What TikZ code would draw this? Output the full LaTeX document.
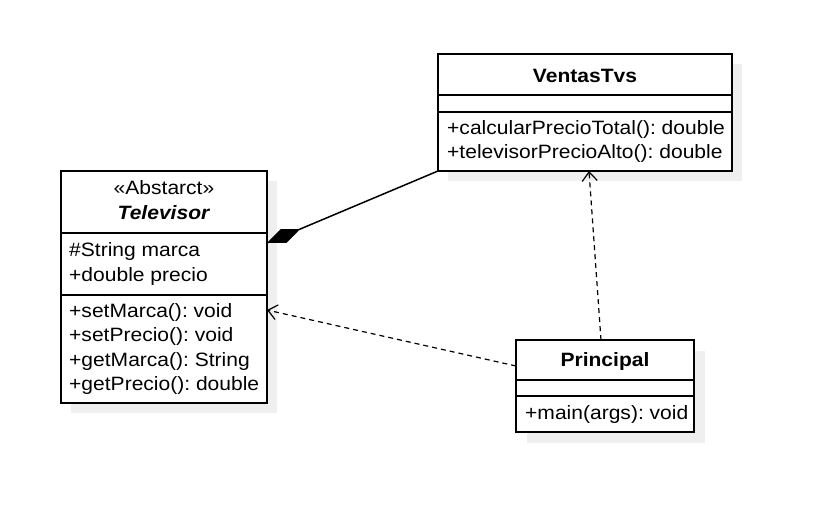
\documentclass[tikz,border=0pt]{standalone}
\usepackage{fontspec}
\setmainfont{Liberation Sans}[FakeStretch=1.09]
\usetikzlibrary{arrows.meta,calc,backgrounds}
\definecolor{shadowgray}{HTML}{EFEFEF}
\frenchspacing
\tikzset{
  x=1pt, y=-1pt,
  comp/.style={draw=black, line width=1.3pt, fill=white, anchor=north west,
    inner sep=0pt, outer sep=0pt},
  txt/.style={inner sep=0pt, align=left, anchor=west, font=\fontsize{19.3}{24.5}\selectfont},
  ctxt/.style={inner sep=0pt, align=center, anchor=center, font=\fontsize{19.3}{24.5}\selectfont},
  shadowbox/.style={fill=shadowgray, draw=none},
  dep/.style={line width=1.2pt, dash pattern=on 5pt off 4pt, -{Straight Barb[length=9pt,width=15pt,line width=1.2pt]}},
  compo/.style={line width=1.5pt, {Diamond[length=36pt,width=15pt]}-}
}
\begin{document}
\begin{tikzpicture}
\useasboundingbox (0,0) rectangle (816,523);

% Televisor
\node[comp, minimum width=206pt, minimum height=62pt] (tvh) at (61,171) {};
\node[comp, minimum width=206pt, minimum height=62pt] (tva) at (tvh.south west) {};
\node[comp, minimum width=206pt, minimum height=108pt] (tvm) at (tva.south west) {};
\node[ctxt] (tvht) at ($(tvh.center)+(0,-2)$) {«Abstarct»\\\textbf{\textit{Televisor}}};
\node[txt] (tvat) at ($(tva.west)+(8,0)$) {\#String marca\\+double precio};
\node[txt] (tvmt) at ($(tvm.west)+(8,0)$) {+setMarca(): void\\+setPrecio(): void\\+getMarca(): String\\+getPrecio(): double};

% VentasTvs
\node[comp, minimum width=294pt, minimum height=41pt] (vh) at (438,54) {};
\node[comp, minimum width=294pt, minimum height=17pt] (va) at (vh.south west) {};
\node[comp, minimum width=294pt, minimum height=59pt] (vm) at (va.south west) {};
\node[ctxt] (vht) at ($(vh.center)+(0,1)$) {\textbf{VentasTvs}};
\node[txt] (vmt) at ($(vm.west)+(9,0)$) {+calcularPrecioTotal(): double\\+televisorPrecioAlto(): double};

% Principal
\node[comp, minimum width=178pt, minimum height=40pt] (ph) at (516,340) {};
\node[comp, minimum width=178pt, minimum height=16pt] (pa) at (ph.south west) {};
\node[comp, minimum width=178pt, minimum height=36pt] (pm) at (pa.south west) {};
\node[ctxt] (pht) at ($(ph.center)+(0,2)$) {\textbf{Principal}};
\node[txt] (pmt) at ($(pm.west)+(9,0)$) {+main(args): void};

% shadows
\begin{scope}[on background layer]
  \fill[shadowbox] ($(tvh.north west)+(10,10)$) rectangle ($(tvm.south east)+(10,10)$);
  \fill[shadowbox] ($(vh.north west)+(10,10)$) rectangle ($(vm.south east)+(10,10)$);
  \fill[shadowbox] ($(ph.north west)+(11,11)$) rectangle ($(pm.south east)+(11,11)$);
\end{scope}

% connectors
\coordinate (compstart) at ($(tva.north east)+(0,10)$);
\draw[compo] (compstart) -- (vm.south west);
\draw[dep] ($(ph.south west)+(0,-14)$) -- ($(tvm.north east)+(0,15)$);
\draw[dep] ($(ph.north)+(-4,0)$) -- ($(vm.south)+(4,0)$);
\end{tikzpicture}
\end{document}
